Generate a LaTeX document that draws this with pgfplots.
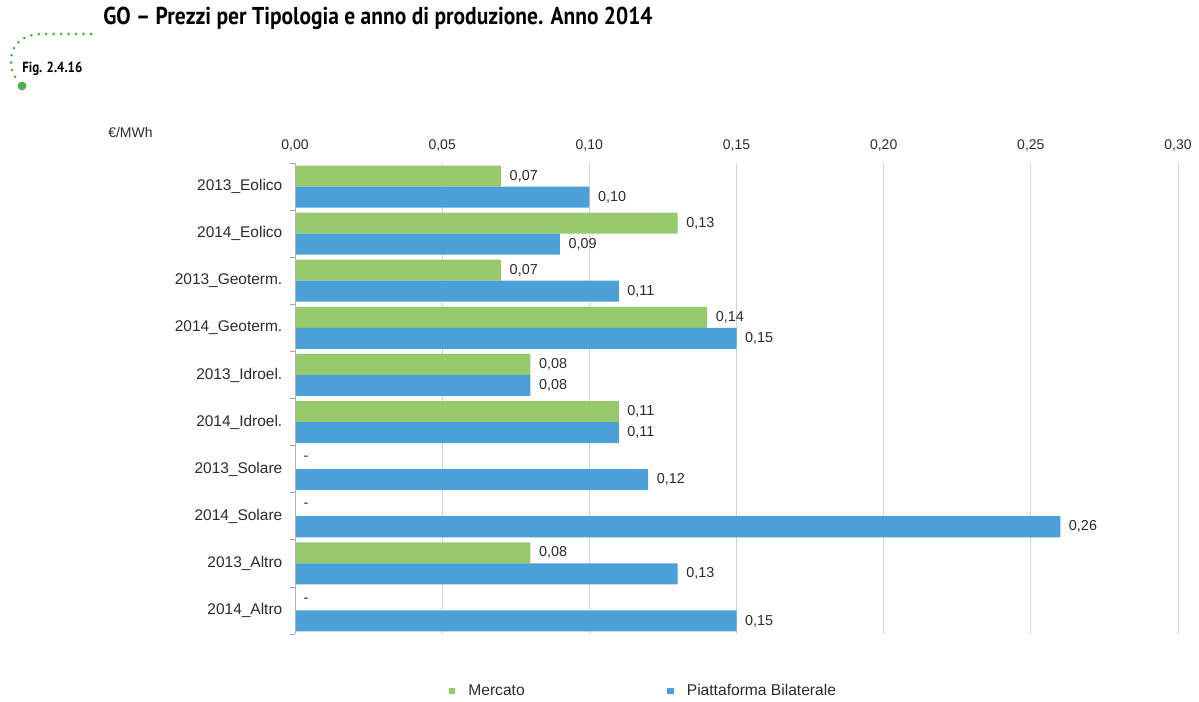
\documentclass[border=0pt]{standalone}
\usepackage{pgfplots}
\pgfplotsset{compat=1.18}
\usepackage{pgfplotstable}
\usepackage{fontspec}
\setmainfont{Liberation Sans}
\newfontfamily\titlefont[FakeStretch=0.88]{PT Sans}

\definecolor{goGreen}{HTML}{96C96B}
\definecolor{goBlue}{HTML}{4BA0D8}
\definecolor{figGreen}{HTML}{4DAF4A}
\definecolor{txt}{HTML}{2B2B2B}

% pos = category index (0 = 2013_Eolico ... 9 = 2014_Altro)
\pgfplotstableread{
pos val lab
0 0.07 0,07
1 0.13 0,13
2 0.07 0,07
3 0.14 0,14
4 0.08 0,08
5 0.11 0,11
6 0 -
7 0 -
8 0.08 0,08
9 0 -
}\mercato

\pgfplotstableread{
pos val lab
0 0.10 0,10
1 0.09 0,09
2 0.11 0,11
3 0.15 0,15
4 0.08 0,08
5 0.11 0,11
6 0.12 0,12
7 0.26 0,26
8 0.13 0,13
9 0.15 0,15
}\bilaterale

\begin{document}
\begin{tikzpicture}
\path[use as bounding box] (0,0) rectangle (899.25pt,526.5pt);

\begin{scope}[shift={(0,526.5pt)}, x=0.75pt, y=-0.75pt]
  \node[anchor=west, inner sep=0pt, font=\titlefont\bfseries\fontsize{18.3}{20}\selectfont]
    at (103,18) {GO – Prezzi per Tipologia e anno di produzione. Anno 2014};
  \draw[figGreen, line width=2.3pt, line cap=round, dash pattern=on 0pt off 5.6pt]
    (91,34) -- (40,34) .. controls (22,35) and (11,45) .. (11,60)
    .. controls (11,70) and (14,77) .. (18,80);
  \fill[figGreen] (22,86) circle[radius=3.3pt];
  \node[anchor=west, inner sep=0pt, font=\titlefont\bfseries\fontsize{11}{12}\selectfont]
    at (22,69) {Fig. 2.4.16};
  \node[anchor=west, inner sep=0pt, text=txt, font=\fontsize{10.5}{12}\selectfont]
    at (108,133) {€/MWh};
\end{scope}

\begin{axis}[
    at={(221.25pt,51pt)}, anchor=south west,
    scale only axis,
    width=662.25pt, height=353.25pt,
    xbar,
    bar width=0.446,
    xmin=0, xmax=0.3,
    ymin=-0.5, ymax=9.5,
    y dir=reverse,
    xtick={0,0.05,0.10,0.15,0.20,0.25,0.30},
    xticklabel pos=upper,
    xtick pos=upper,
    ytick pos=left,
    xmajorgrids,
    grid style={color=black!17, line width=0.6pt},
    ytick={0,1,2,3,4,5,6,7,8,9},
    yticklabels={2013\_Eolico,2014\_Eolico,2013\_Geoterm.,2014\_Geoterm.,2013\_Idroel.,2014\_Idroel.,2013\_Solare,2014\_Solare,2013\_Altro,2014\_Altro},
    minor ytick={-0.5,0.5,1.5,2.5,3.5,4.5,5.5,6.5,7.5,8.5,9.5},
    major tick length=0pt,
    minor tick length=4pt,
    tick align=outside,
    minor tick style={color=black!35, line width=0.6pt},
    axis line style={draw=none},
    x tick label style={font=\fontsize{10.5}{12}\selectfont, text=txt, yshift=5pt},
    y tick label style={font=\fontsize{11.6}{13}\selectfont, text=txt, xshift=-6pt},
    /pgf/number format/.cd, use comma, fixed, fixed zerofill, precision=2, assume math mode=true,
    /pgfplots/.cd,
    nodes near coords,
    point meta=explicit symbolic,
    every node near coord/.append style={anchor=west, xshift=3pt,
        font=\fontsize{10.8}{12}\selectfont, text=txt},
    legend columns=2,
    legend style={draw=none, fill=none, at={(0.395,-0.121)}, anchor=center,
        font=\fontsize{11.7}{13}\selectfont, text=txt,
        /tikz/every odd column/.append style={column sep=8pt},
        /tikz/every even column/.append style={column sep=105pt}},
]
\addplot[fill=goGreen, draw=none, bar shift=-0.223,
    legend image code/.code={\fill[goGreen] (0pt,-2.3pt) rectangle (4.6pt,2.3pt);}]
    table[x=val, y=pos, meta=lab] {\mercato};
\addlegendentry{Mercato}
\addplot[fill=goBlue, draw=none, bar shift=0.223,
    legend image code/.code={\fill[goBlue] (0pt,-2.3pt) rectangle (4.6pt,2.3pt);}]
    table[x=val, y=pos, meta=lab] {\bilaterale};
\addlegendentry{Piattaforma Bilaterale}
\draw[black!30, line width=0.7pt] (axis cs:0,-0.5) -- (axis cs:0,9.5);
\end{axis}
\end{tikzpicture}
\end{document}
